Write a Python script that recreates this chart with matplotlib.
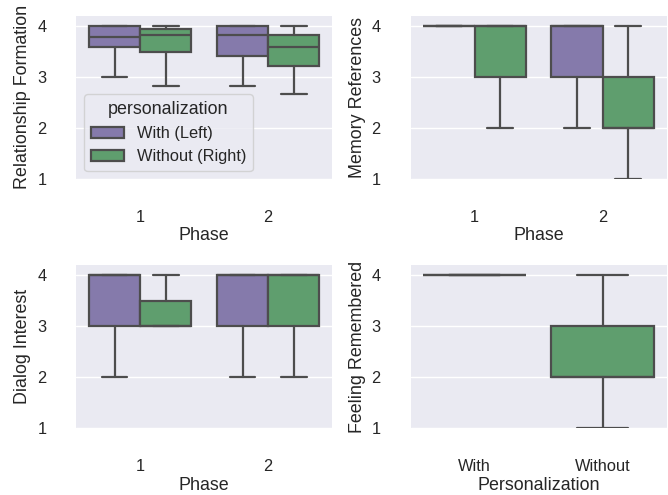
import numpy as np
import matplotlib
matplotlib.use('Agg')
import matplotlib.pyplot as plt
import seaborn as sns
from matplotlib.patches import Patch

sns.set_theme(style='darkgrid', context='notebook', font_scale=1.07)
plt.rcParams['font.family'] = ['Liberation Sans', 'DejaVu Sans']

# box summaries: (whislo, q1, med, q3, whishi)
PHASES = ['1', '2']
HUES = ['With (Left)', 'Without (Right)']

relationship_with    = [(3.00, 3.58, 3.79, 4.00, 4.00), (2.83, 3.42, 3.83, 4.00, 4.00)]
relationship_without = [(2.83, 3.50, 3.83, 3.95, 4.00), (2.67, 3.21, 3.58, 3.83, 4.00)]

memory_with    = [(4.0, 4.0, 4.0, 4.0, 4.0), (2.0, 3.0, 4.0, 4.0, 4.0)]
memory_without = [(2.0, 3.0, 4.0, 4.0, 4.0), (1.0, 2.0, 2.0, 3.0, 4.0)]

dialog_with    = [(2.0, 3.0, 4.0, 4.0, 4.0), (2.0, 3.0, 4.0, 4.0, 4.0)]
dialog_without = [(3.0, 3.0, 3.0, 3.5, 4.0), (2.0, 3.0, 4.0, 4.0, 4.0)]

FEELING_CATS = ['With', 'Without']
feeling = [(4.0, 4.0, 4.0, 4.0, 4.0), (1.0, 2.0, 2.0, 3.0, 4.0)]

deep = sns.color_palette('deep')
PURPLE = sns.desaturate(deep[4], 0.75)
GREEN = sns.desaturate(deep[2], 0.75)
LINE = '#4d4d4d'
LW = 1.6


def to_stats(t):
    lo, q1, med, q3, hi = t
    return dict(whislo=lo, q1=q1, med=med, q3=q3, whishi=hi, fliers=[])


def draw_boxes(ax, stats, positions, width, color):
    props = dict(color=LINE, linewidth=LW)
    res = ax.bxp([to_stats(s) for s in stats], positions=positions,
                 widths=width, capwidths=width / 2, patch_artist=True,
                 showfliers=False, boxprops=dict(edgecolor=LINE, linewidth=LW),
                 whiskerprops=props, capprops=props, medianprops=props,
                 manage_ticks=False)
    for b in res['boxes']:
        b.set_facecolor(color)


def hue_panel(ax, with_stats, without_stats, ylabel):
    x = np.arange(len(PHASES))
    draw_boxes(ax, with_stats, x - 0.2, 0.4, PURPLE)
    draw_boxes(ax, without_stats, x + 0.2, 0.4, GREEN)
    ax.set_xticks(x)
    ax.set_xticklabels(PHASES)
    ax.set_xlim(-0.5, len(PHASES) - 0.5)
    ax.set_xlabel('Phase', labelpad=1.5)
    ax.set_ylabel(ylabel)


fig, axes = plt.subplots(2, 2, figsize=(6.68, 4.95), dpi=100)
hue_panel(axes[0, 0], relationship_with, relationship_without, 'Relationship Formation')
hue_panel(axes[0, 1], memory_with, memory_without, 'Memory References')
hue_panel(axes[1, 0], dialog_with, dialog_without, 'Dialog Interest')

ax = axes[1, 1]
xc = np.arange(len(FEELING_CATS))
for i, (s, c) in enumerate(zip(feeling, [PURPLE, GREEN])):
    draw_boxes(ax, [s], [xc[i]], 0.8, c)
ax.set_xticks(xc)
ax.set_xticklabels(FEELING_CATS)
ax.set_xlim(-0.5, 1.5)
ax.set_xlabel('Personalization', labelpad=1.5)
ax.set_ylabel('Feeling Remembered')

for a in axes.flat:
    a.set_ylim(1, 4.2)
    a.set_yticks([1, 2, 3, 4])
    a.xaxis.grid(False)

handles = [Patch(facecolor=PURPLE, edgecolor=LINE, linewidth=LW, label=HUES[0]),
           Patch(facecolor=GREEN, edgecolor=LINE, linewidth=LW, label=HUES[1])]
axes[0, 0].legend(handles=handles, title='personalization', loc='lower left')

sns.despine()
for a in axes.flat:
    a.spines['bottom'].set_position(('outward', 13))
    a.spines['left'].set_position(('outward', 12))

fig.subplots_adjust(left=0.114, right=0.998, top=0.968, bottom=0.135,
                    wspace=0.307, hspace=0.527)
plt.savefig('out.png', dpi=100)
